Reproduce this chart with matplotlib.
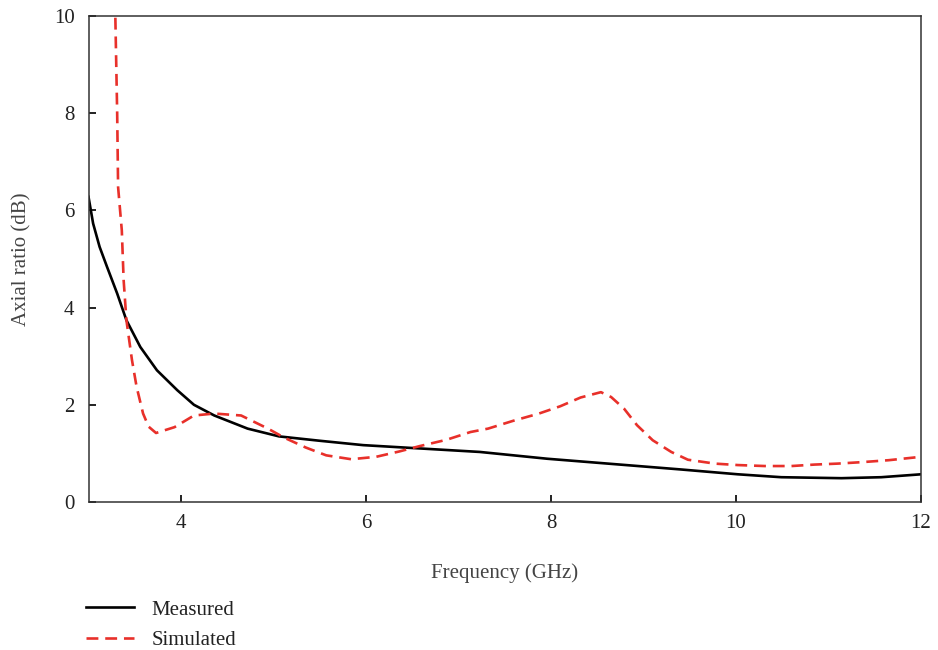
import matplotlib
matplotlib.use("Agg")
import matplotlib.pyplot as plt

# Measured axial ratio
freq_measured = [3.0, 3.05, 3.12, 3.20, 3.31, 3.41, 3.56, 3.74, 3.96, 4.14, 4.36,
                 4.72, 5.06, 5.50, 5.97, 6.51, 7.23, 7.96, 8.68, 9.40, 10.02,
                 10.49, 11.14, 11.57, 12.0]
ar_measured = [6.28, 5.73, 5.25, 4.84, 4.29, 3.74, 3.19, 2.71, 2.30, 2.00, 1.78,
               1.51, 1.35, 1.26, 1.17, 1.11, 1.03, 0.89, 0.78, 0.67, 0.57,
               0.51, 0.49, 0.51, 0.57]

# Simulated axial ratio
freq_simulated = [3.28, 3.29, 3.31, 3.32, 3.36, 3.38, 3.41, 3.47, 3.52, 3.59, 3.65,
                  3.73, 3.93, 4.14, 4.36, 4.65, 4.94, 5.12, 5.35, 5.57, 5.84,
                  6.11, 6.36, 6.58, 6.87, 7.13, 7.32, 7.59, 7.87, 8.10, 8.32,
                  8.54, 8.65, 8.79, 8.93, 9.10, 9.30, 9.48, 9.77, 10.02, 10.31,
                  10.60, 10.85, 11.10, 11.36, 11.65, 11.90, 12.0]
ar_simulated = [10.8, 10.0, 8.0, 6.48, 5.59, 4.56, 3.74, 2.92, 2.37, 1.82, 1.55,
                1.42, 1.54, 1.78, 1.82, 1.78, 1.51, 1.32, 1.12, 0.96, 0.88,
                0.93, 1.04, 1.15, 1.28, 1.44, 1.51, 1.67, 1.82, 1.97, 2.15,
                2.26, 2.16, 1.92, 1.58, 1.27, 1.03, 0.87, 0.79, 0.76, 0.74,
                0.74, 0.77, 0.79, 0.82, 0.86, 0.91, 0.93]

x_ticks = [4, 6, 8, 10, 12]
y_ticks = [0, 2, 4, 6, 8, 10]

plt.rcParams["font.family"] = ["Liberation Serif", "DejaVu Serif"]
plt.rcParams["font.size"] = 15

W, H = 938, 650
fig = plt.figure(figsize=(W / 100, H / 100), dpi=100)
ax = fig.add_axes([88.5 / W, 1 - 502 / H, (921 - 88.5) / W, (502 - 16) / H])

ln_meas, = ax.plot(freq_measured, ar_measured, color="black", lw=1.9,
                   label="Measured", solid_joinstyle="round")
ln_sim, = ax.plot(freq_simulated, ar_simulated, color="#e8302a", lw=1.9,
                  dashes=(4.5, 2.6), label="Simulated")

ax.set_xlim(3, 12)
ax.set_ylim(0, 10)
ax.set_xticks(x_ticks)
ax.set_yticks(y_ticks)

for s in ax.spines.values():
    s.set_color("#333333")
    s.set_linewidth(1.1)

ax.tick_params(axis="both", direction="in", length=5, width=1.4,
               color="#222222", labelcolor="#222222")
ax.tick_params(axis="x", pad=8.5)
ax.tick_params(axis="y", pad=10)

ax.set_xlabel("Frequency (GHz)", color="#444444")
ax.set_ylabel("Axial ratio (dB)", color="#444444")
ax.xaxis.set_label_coords(0.5, -(563 - 502) / (502 - 16), transform=ax.transAxes)
ax.xaxis.label.set_va("top")
ax.yaxis.set_label_coords((31 - 88.5) / (921 - 88.5), 0.5)

fig.legend(handles=[ln_meas, ln_sim], loc="upper left",
           bbox_to_anchor=(86 / W, 1 - 600 / H), frameon=False,
           handlelength=2.3, handletextpad=0.85, labelspacing=0.53,
           borderpad=0, borderaxespad=0, labelcolor="#222222")

fig.savefig("out.png", dpi=100)
